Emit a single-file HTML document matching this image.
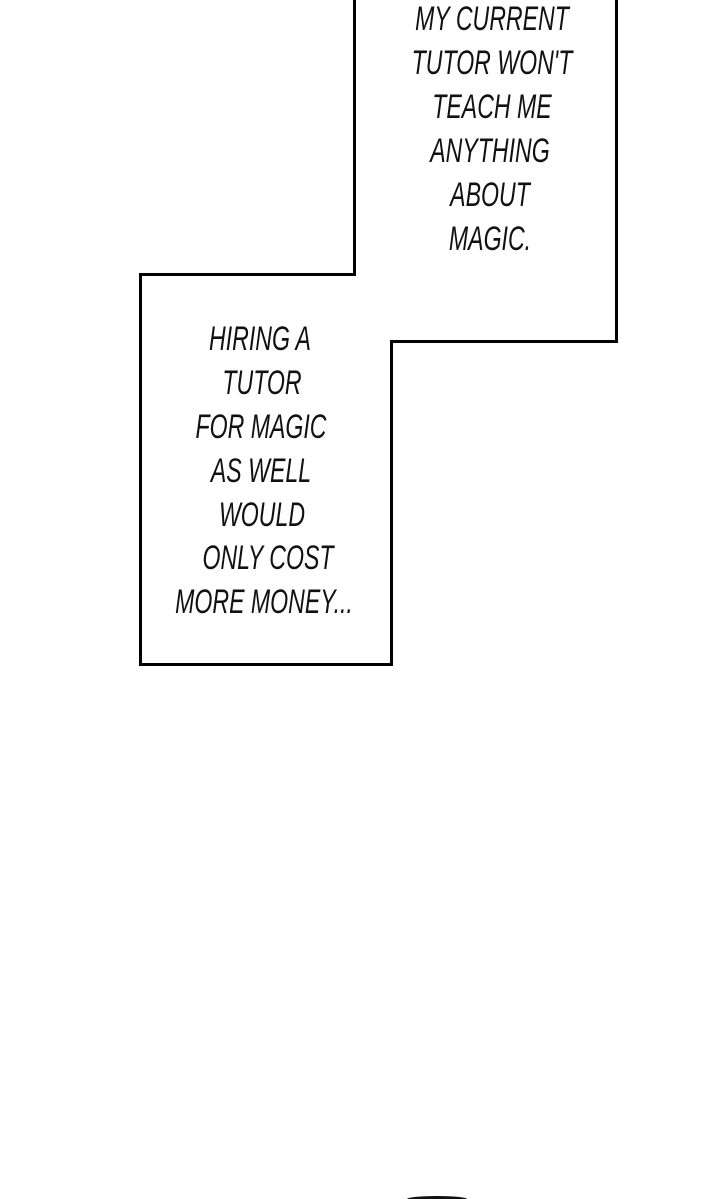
<!DOCTYPE html>
<html><head><meta charset="utf-8"><style>
html,body{margin:0;padding:0;background:#fff;width:720px;height:1199px;overflow:hidden;position:relative}
.t{position:absolute;font-family:"Liberation Sans",sans-serif;font-style:italic;font-size:34px;color:#111;white-space:nowrap;transform:translateX(-50%) scaleX(0.68);line-height:34px}
</style></head><body>
<svg width="720" height="1199" style="position:absolute;left:0;top:0">
<path d="M354.5,-5 L354.5,274.5 L140.5,274.5 L140.5,664.5 L391.5,664.5 L391.5,341.5 L616.5,341.5 L616.5,-5" fill="none" stroke="#000" stroke-width="3"/>
<ellipse cx="437" cy="1199" rx="30" ry="3" fill="#111"/>
</svg>
<div class="t" style="left:492px;top:2px">MY CURRENT</div>
<div class="t" style="left:492px;top:46px">TUTOR WON'T</div>
<div class="t" style="left:492px;top:90px">TEACH ME</div>
<div class="t" style="left:490px;top:134px">ANYTHING</div>
<div class="t" style="left:490px;top:178px">ABOUT</div>
<div class="t" style="left:490px;top:222px">MAGIC.</div>
<div class="t" style="left:260px;top:322px">HIRING A</div>
<div class="t" style="left:262px;top:366px">TUTOR</div>
<div class="t" style="left:261px;top:410px">FOR MAGIC</div>
<div class="t" style="left:261px;top:454px">AS WELL</div>
<div class="t" style="left:262px;top:498px">WOULD</div>
<div class="t" style="left:268px;top:541px">ONLY COST</div>
<div class="t" style="left:264px;top:585px">MORE MONEY...</div>
</body></html>
